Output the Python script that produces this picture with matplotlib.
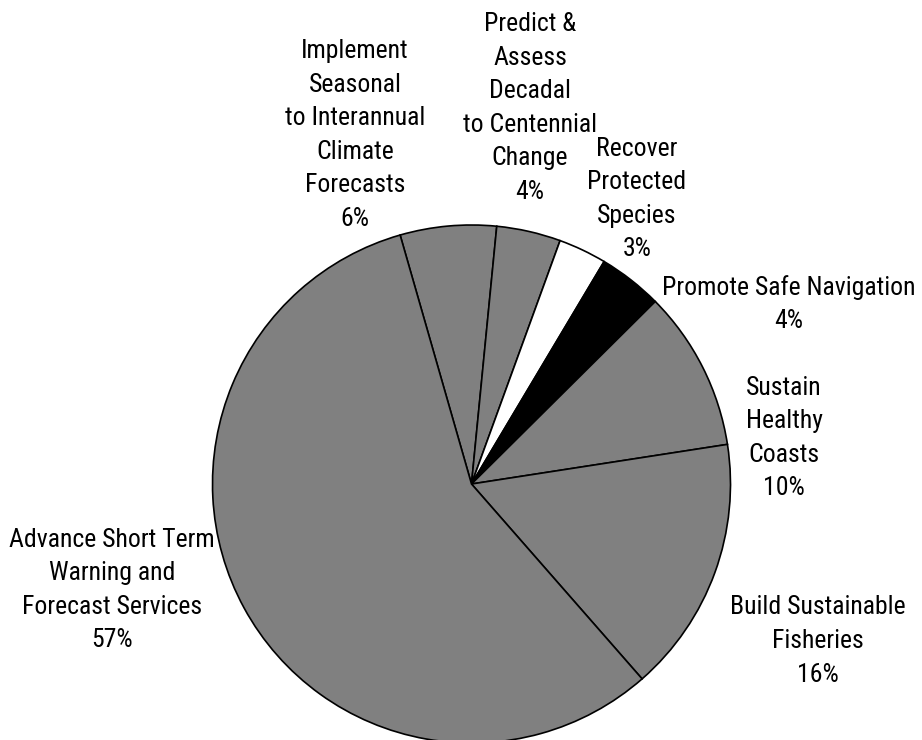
import matplotlib.pyplot as plt

# slices clockwise, starting just left of 12 o'clock
labels = ["Implement\nSeasonal\nto Interannual\nClimate\nForecasts",
          "Predict &\nAssess\nDecadal\nto Centennial\nChange",
          "Recover\nProtected\nSpecies",
          "Promote Safe Navigation",
          "Sustain\nHealthy\nCoasts",
          "Build Sustainable\nFisheries",
          "Advance Short Term\nWarning and\nForecast Services"]
values = [6, 4, 3, 4, 10, 16, 57]
colors = ["#808080", "#808080", "#ffffff", "#000000", "#808080", "#808080", "#808080"]

# label block centres in pixels (x, y from top)
label_pos = [(355, 135), (530, 108), (637, 199), (789, 304),
             (784, 438), (818, 641), (112, 590)]

plt.rcParams['font.family'] = ["Roboto Condensed", "Liberation Sans", "DejaVu Sans"]

W, H = 922, 740
fig = plt.figure(figsize=(W / 100, H / 100), dpi=100)
cx, cy, r = 471.5, 484, 259
ax = fig.add_axes([(cx - r) / W, (H - cy - r) / H, 2 * r / W, 2 * r / H])
ax.pie(values, colors=colors, startangle=106, counterclock=False, radius=1,
       wedgeprops=dict(edgecolor="black", linewidth=1.2))
ax.set_xlim(-1, 1)
ax.set_ylim(-1, 1)
ax.set_aspect("auto")
ax.axis("off")

for lab, v, (x, y) in zip(labels, values, label_pos):
    fig.text(x / W, 1 - y / H, f"{lab}\n{v}%", ha="center", va="center",
             multialignment="center", fontsize=18.5, linespacing=1.5)

fig.savefig("out.png", dpi=100)
